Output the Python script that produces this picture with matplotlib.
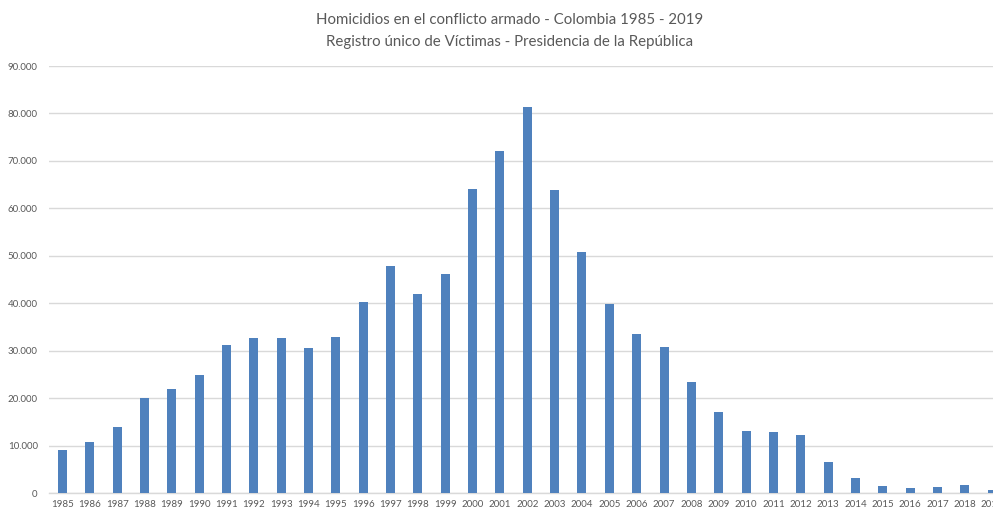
import matplotlib
matplotlib.use("Agg")
import matplotlib.pyplot as plt
from matplotlib.ticker import FuncFormatter

years = list(range(1985, 2020))
homicidios = [9100, 10800, 14000, 20100, 21900, 25000, 31200, 32700, 32700, 30600,
              33000, 40200, 47800, 42050, 46200, 64000, 72100, 81300, 63900, 50800,
              39800, 33600, 30900, 23500, 17100, 13100, 12900, 12200, 6500, 3200,
              1600, 1100, 1300, 1800, 600]
title_lines = ["Homicidios en el conflicto armado - Colombia 1985 - 2019",
               "Registro único de Víctimas - Presidencia de la República"]

plt.rcParams['font.family'] = ['Lato', 'DejaVu Sans']

fig = plt.figure(figsize=(9.93, 5.11), dpi=100)
ax = fig.add_axes([48.8/993, (511-493.3)/511, 957/993, (493.3-66)/511])

x = list(range(len(years)))
ax.bar(x, homicidios, width=0.33, color='#4F81BD', zorder=3)

ax.set_xlim(-0.5, len(years) - 0.5)
ax.set_ylim(0, 90000)
ax.set_yticks(range(0, 90001, 10000))
ax.yaxis.set_major_formatter(FuncFormatter(lambda v, p: f"{int(v):,}".replace(",", ".")))
ax.set_xticks(x)
ax.set_xticklabels([str(y) for y in years])

ax.grid(axis='y', color='#d9d9d9', linewidth=1, zorder=0)
for s in ['top', 'right', 'left']:
    ax.spines[s].set_visible(False)
ax.spines['bottom'].set_color('#d9d9d9')
ax.spines['bottom'].set_linewidth(1)
ax.tick_params(axis='both', length=0, colors='#595959', labelsize=7)
ax.tick_params(axis='y', pad=8)
ax.tick_params(axis='x', pad=5)

fig.text(0.5135, 1 - 20/511, title_lines[0], ha='center', va='center', fontsize=10.8, color='#595959')
fig.text(0.5135, 1 - 42/511, title_lines[1], ha='center', va='center', fontsize=10.8, color='#595959')

fig.savefig("out.png", dpi=100)
